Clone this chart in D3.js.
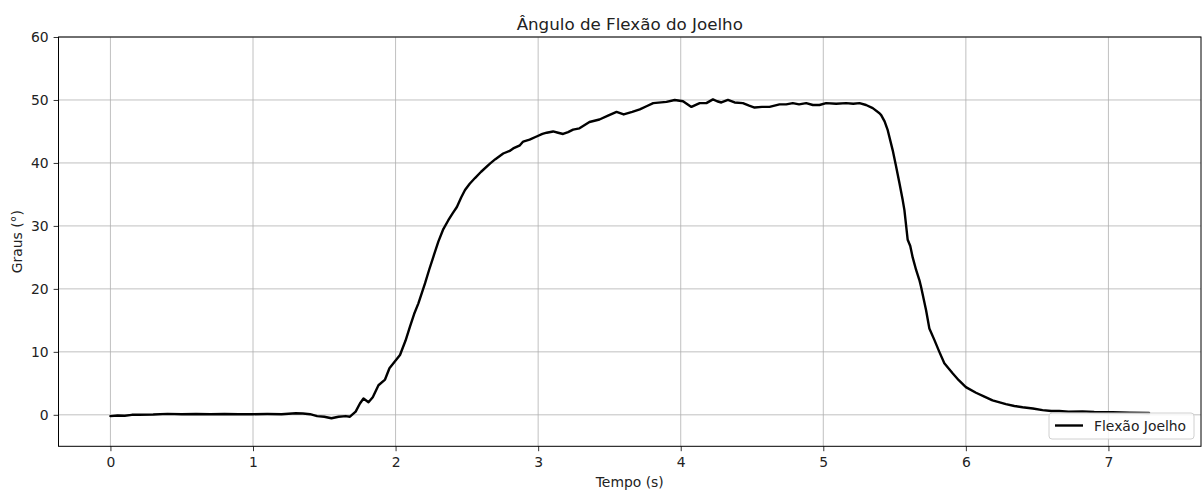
<!DOCTYPE html>
<html>
<head>
<meta charset="utf-8">
<script src="https://cdn.jsdelivr.net/npm/d3@7"></script>
<style>
  html, body { margin: 0; padding: 0; background: #fff; }
  svg { display: block; font-family: "DejaVu Sans", sans-serif; }
</style>
</head>
<body>
<svg id="chart" width="1203" height="493"></svg>
<script>
const title = "Ângulo de Flexão do Joelho";
const xLabel = "Tempo (s)";
const yLabel = "Graus (°)";
const seriesName = "Flexão Joelho";
const xTicks = [0, 1, 2, 3, 4, 5, 6, 7];
const yTicks = [0, 10, 20, 30, 40, 50, 60];

const time = [
  0, 0.05, 0.1, 0.15, 0.2, 0.3, 0.4, 0.5, 0.6, 0.7, 0.8, 0.9, 1.0, 1.1, 1.2, 1.3, 1.35, 1.4, 1.45, 1.5,
  1.55, 1.6, 1.65, 1.68, 1.72, 1.75, 1.775, 1.81, 1.84, 1.88, 1.926, 1.957, 1.996, 2.031, 2.07, 2.101,
  2.13, 2.16, 2.207, 2.235, 2.265, 2.30, 2.335, 2.37, 2.40, 2.43, 2.46, 2.487, 2.52, 2.557, 2.6, 2.662,
  2.70, 2.755, 2.80, 2.825, 2.872, 2.895, 2.94, 2.989, 3.03, 3.06, 3.105, 3.14, 3.175, 3.21, 3.245, 3.29,
  3.36, 3.43, 3.49, 3.55, 3.6, 3.66, 3.713, 3.76, 3.807, 3.9, 3.958, 4.016, 4.075, 4.133, 4.18, 4.226,
  4.255, 4.285, 4.331, 4.378, 4.436, 4.48, 4.518, 4.57, 4.623, 4.693, 4.74, 4.786, 4.83, 4.88, 4.927,
  4.973, 5.02, 5.09, 5.16, 5.21, 5.254, 5.3, 5.347, 5.394, 5.406, 5.43, 5.452, 5.487, 5.51, 5.534, 5.557,
  5.569, 5.592, 5.61, 5.627, 5.651, 5.674, 5.686, 5.721, 5.744, 5.779, 5.814, 5.849, 5.907, 5.95, 6.0,
  6.071, 6.13, 6.187, 6.281, 6.34, 6.398, 6.47, 6.538, 6.6, 6.655, 6.72, 6.818, 6.9, 7.029, 7.15, 7.285
];
const angle = [
  -0.2, -0.1, -0.15, 0.0, 0.0, 0.05, 0.15, 0.1, 0.12, 0.08, 0.12, 0.1, 0.1, 0.12, 0.1, 0.25, 0.2, 0.1, -0.2, -0.3,
  -0.55, -0.3, -0.2, -0.3, 0.5, 1.8, 2.6, 2.0, 2.8, 4.7, 5.6, 7.4, 8.5, 9.5, 11.8, 14.0,
  16.0, 17.7, 20.9, 23.0, 25.1, 27.5, 29.5, 30.9, 32.0, 33.0, 34.5, 35.7, 36.7, 37.6, 38.6, 39.9,
  40.6, 41.5, 41.9, 42.3, 42.8, 43.4, 43.7, 44.2, 44.6, 44.8, 45.0, 44.8, 44.6, 44.9, 45.3, 45.5,
  46.5, 46.9, 47.5, 48.1, 47.7, 48.1, 48.5, 49.0, 49.5, 49.7, 50.0, 49.8, 48.9, 49.5, 49.5, 50.1,
  49.8, 49.6, 50.0, 49.6, 49.5, 49.1, 48.8, 48.9, 48.9, 49.3, 49.3, 49.5, 49.3, 49.5, 49.2,
  49.2, 49.5, 49.4, 49.5, 49.4, 49.5, 49.2, 48.7, 47.9, 47.6, 46.6, 45.2, 42.0, 39.5, 36.8, 34.1,
  32.5, 27.8, 26.8, 25.0, 23.0, 21.4, 20.3, 16.6, 13.7, 11.9, 10.0, 8.2, 6.6, 5.5, 4.4,
  3.5, 2.9, 2.3, 1.7, 1.4, 1.2, 1.0, 0.75, 0.6, 0.6, 0.5, 0.55, 0.45, 0.4, 0.35, 0.3
];

const data = time.map((t, i) => ({ t, v: angle[i] }));

const svg = d3.select("#chart");
const L = 58.5, R = 1201, T = 37, B = 446.3;

const xMax = d3.max(time);
const pad = xMax * 0.05;
const x = d3.scaleLinear().domain([-pad, xMax + pad]).range([L, R]);
const y = d3.scaleLinear().domain([-5, 60]).range([B, T]);

// grid
const grid = svg.append("g").attr("stroke", "#b0b0b0").attr("stroke-width", 0.8);
xTicks.forEach(d => grid.append("line")
  .attr("x1", x(d)).attr("x2", x(d)).attr("y1", T).attr("y2", B));
yTicks.forEach(d => grid.append("line")
  .attr("x1", L).attr("x2", R).attr("y1", y(d)).attr("y2", y(d)));

// line
svg.append("path")
  .datum(data)
  .attr("fill", "none")
  .attr("stroke", "#000")
  .attr("stroke-width", 2.4)
  .attr("stroke-linejoin", "round")
  .attr("stroke-linecap", "round")
  .attr("d", d3.line().x(d => x(d.t)).y(d => y(d.v)));

// axes
const xAxis = d3.axisBottom(x).tickValues(xTicks).tickFormat(d3.format("d")).tickSize(4.9).tickPadding(5.5);
const yAxis = d3.axisLeft(y).tickValues(yTicks).tickFormat(d3.format("d")).tickSize(4.9).tickPadding(4.9);

const gx = svg.append("g").attr("transform", `translate(0,${B})`).call(xAxis);
const gy = svg.append("g").attr("transform", `translate(${L},0)`).call(yAxis);
[gx, gy].forEach(g => {
  g.select(".domain").remove();
  g.selectAll(".tick line").attr("stroke", "#000").attr("stroke-width", 0.8);
  g.selectAll(".tick text").attr("fill", "#222").style("font-size", "13.9px")
    .style("font-family", "'DejaVu Sans', sans-serif");
});

// frame
svg.append("rect")
  .attr("x", L).attr("y", T).attr("width", R - L).attr("height", B - T)
  .attr("fill", "none").attr("stroke", "#000").attr("stroke-width", 1);

// title and labels
svg.append("text")
  .attr("x", (L + R) / 2).attr("y", 30)
  .attr("text-anchor", "middle")
  .style("font-size", "16.7px").attr("fill", "#222")
  .text(title);

svg.append("text")
  .attr("x", (L + R) / 2).attr("y", 486.5)
  .attr("text-anchor", "middle")
  .style("font-size", "13.9px").attr("fill", "#222")
  .text(xLabel);

svg.append("text")
  .attr("transform", `translate(22,${(T + B) / 2}) rotate(-90)`)
  .attr("text-anchor", "middle")
  .style("font-size", "13.9px").attr("fill", "#222")
  .text(yLabel);

// legend
const lg = svg.append("g");
lg.append("rect")
  .attr("x", 1049).attr("y", 413).attr("width", 145).attr("height", 26)
  .attr("rx", 3).attr("ry", 3)
  .attr("fill", "#fff").attr("fill-opacity", 0.8)
  .attr("stroke", "#d0d0d0").attr("stroke-width", 1);
lg.append("line")
  .attr("x1", 1055).attr("x2", 1083).attr("y1", 425.5).attr("y2", 425.5)
  .attr("stroke", "#000").attr("stroke-width", 2.4);
lg.append("text")
  .attr("x", 1094).attr("y", 430.8)
  .style("font-size", "13.9px").attr("fill", "#222")
  .text(seriesName);
</script>
</body>
</html>
